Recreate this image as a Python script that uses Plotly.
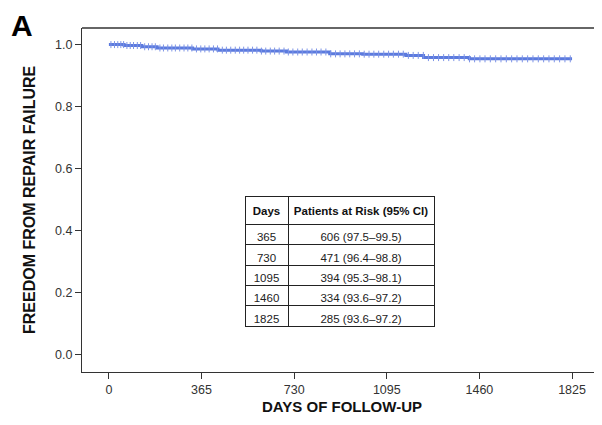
import plotly.graph_objects as go

# Kaplan-Meier step estimate (days, survival)
km_days = [0, 60, 130, 190, 330, 430, 600, 700, 870, 1000, 1170, 1240, 1420, 1825]
km_surv = [1.000, 0.997, 0.993, 0.989, 0.986, 0.982, 0.979, 0.976, 0.970, 0.969, 0.965, 0.958, 0.954, 0.954]

# censored observations (approximate days read from tick marks)
censor_days = [8, 22, 35, 47, 58, 71, 84, 97, 112, 125, 141, 156, 170, 183, 201, 215, 232, 248, 262,
               279, 296, 311, 327, 345, 362, 378, 395, 412, 428, 447, 463, 480, 498, 515, 531, 548,
               566, 583, 601, 618, 636, 653, 671, 690, 707, 725, 744, 762, 781, 800, 818, 836, 855,
               874, 893, 911, 930, 949, 968, 987, 1006, 1025, 1044, 1063, 1083, 1102, 1121, 1141,
               1160, 1180, 1199, 1219, 1239, 1259, 1279, 1299, 1319, 1339, 1359, 1380, 1400, 1421,
               1441, 1462, 1482, 1503, 1524, 1545, 1566, 1587, 1608, 1629, 1650, 1671, 1692, 1713,
               1734, 1755, 1776, 1797, 1818]

table_days = ["365", "730", "1095", "1460", "1825"]
table_risk = ["606 (97.5–99.5)", "471 (96.4–98.8)", "394 (95.3–98.1)", "334 (93.6–97.2)", "285 (93.6–97.2)"]

x_ticks = [0, 365, 730, 1095, 1460, 1825]
y_ticks = [0.0, 0.2, 0.4, 0.6, 0.8, 1.0]

def km_at(d):
    v = km_surv[0]
    for dd, s in zip(km_days, km_surv):
        if dd <= d:
            v = s
    return v

censor_surv = [km_at(d) for d in censor_days]

FONT = "Liberation Sans, Arial, sans-serif"
BLUE = "#5b7ade"
AX = "#333333"

fig = go.Figure()
fig.add_trace(go.Scatter(x=km_days, y=km_surv, mode="lines", line=dict(color=BLUE, width=3, shape="hv"),
                         showlegend=False, hoverinfo="skip"))
fig.add_trace(go.Scatter(x=censor_days, y=censor_surv, mode="markers",
                         marker=dict(symbol="line-ns", size=5, line=dict(color="#7d94e6", width=1)),
                         showlegend=False, hoverinfo="skip"))

nb = "\u00a0"
fig.add_trace(go.Table(
    domain=dict(x=[0.3135, 0.677], y=[0.0, 0.5096]),
    columnwidth=[43, 146],
    header=dict(values=["<b>Days</b>", "<b>" + "Patients at Risk (95% CI)".replace(" ", nb) + "</b>"],
                align="center", height=21, line=dict(color="#222", width=1),
                fill=dict(color="white"), font=dict(family=FONT, size=11.5, color="#111")),
    cells=dict(values=[table_days, table_risk], align="center", height=20.3,
               line=dict(color="#222", width=1), fill=dict(color="white"),
               font=dict(family=FONT, size=11.5, color="#222")),
))

fig.update_layout(
    width=594, height=417,
    margin=dict(l=74, r=0, t=20, b=53),
    paper_bgcolor="white", plot_bgcolor="white",
    font=dict(family=FONT, size=12, color=AX),
    xaxis=dict(range=[-106, 1943], tickvals=x_ticks, ticktext=[str(v) for v in x_ticks],
               showgrid=False, zeroline=False, showline=True, linecolor=AX, linewidth=1,
               ticks="outside", ticklen=6, tickcolor=AX, tickfont=dict(size=12.5, color=AX),
               title=dict(text="<b>DAYS OF FOLLOW-UP</b>", font=dict(size=15, color="#111"), standoff=5)),
    yaxis=dict(range=[-0.0567, 1.0535], tickvals=y_ticks, ticktext=[f"{v:.1f}" for v in y_ticks],
               showgrid=False, zeroline=False, showline=True, linecolor=AX, linewidth=1,
               ticks="outside", ticklen=6, tickcolor=AX, tickfont=dict(size=12.5, color=AX)),
    shapes=[dict(type="line", xref="paper", yref="paper", x0=0, x1=1, y0=1, y1=1,
                 line=dict(color=AX, width=1.5))],
    annotations=[
        dict(text="<b>FREEDOM FROM REPAIR FAILURE</b>", textangle=-90, xref="paper", yref="paper",
             x=-0.102, y=0.5, xanchor="center", yanchor="middle", showarrow=False,
             font=dict(family=FONT, size=16, color="#111")),
        dict(text="<b>A</b>", xref="paper", yref="paper", x=-0.141, y=1.0087, xanchor="left",
             yanchor="middle", showarrow=False, font=dict(family=FONT, size=30, color="#000")),
    ],
)

fig.write_html("out.html")
